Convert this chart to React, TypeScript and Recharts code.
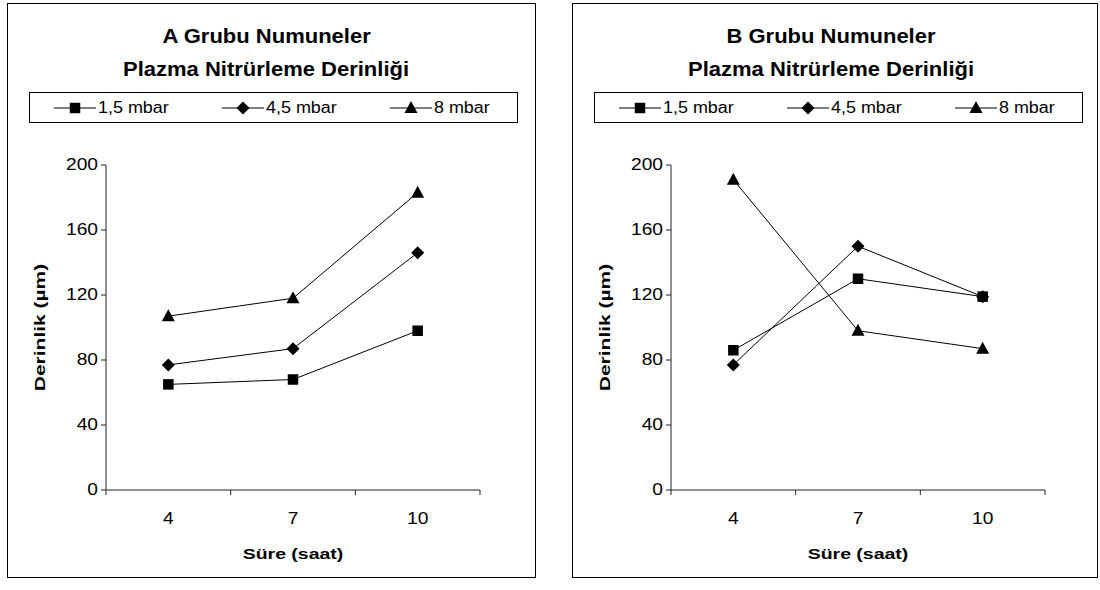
import React from "react";
import { Label, Line, LineChart, XAxis, YAxis } from "recharts";

const hours = ["4", "7", "10"];
const yTicks = [0, 40, 80, 120, 160, 200];
const seriesNames = ["1,5 mbar", "4,5 mbar", "8 mbar"];

// A grubu
const a15 = [65, 68, 98];
const a45 = [77, 87, 146];
const a8 = [107, 118, 183];

// B grubu
const b15 = [86, 130, 119];
const b45 = [77, 150, 119];
const b8 = [191, 98, 87];

const FONT = "'Liberation Sans', Arial, Helvetica, sans-serif";
const CHART_W = 527;
const CHART_H = 573;
const Y_AXIS_W = 50;
const MARGIN = { top: 161, right: 55, bottom: 57, left: 48 };
const PLOT_W = CHART_W - MARGIN.left - MARGIN.right - Y_AXIS_W;
const HALF = PLOT_W / 6;
const AXIS = "#222";
// the original text is drawn a bit wider than Liberation Sans
const TICK_STRETCH = 1.2;

type Shape = "square" | "diamond" | "triangle";
const shapes: Shape[] = ["square", "diamond", "triangle"];

function Marker({ cx, cy, shape }: { cx: number; cy: number; shape: Shape }) {
  if (shape === "square") {
    return <rect x={cx - 5.25} y={cy - 5.25} width={10.5} height={10.5} fill="#000" />;
  }
  if (shape === "diamond") {
    return (
      <polygon
        points={`${cx},${cy - 6.5} ${cx + 6.5},${cy} ${cx},${cy + 6.5} ${cx - 6.5},${cy}`}
        fill="#000"
      />
    );
  }
  return (
    <polygon
      points={`${cx},${cy - 7} ${cx + 6.5},${cy + 5} ${cx - 6.5},${cy + 5}`}
      fill="#000"
    />
  );
}

function XTick(props: any) {
  const { x, y, payload, index } = props;
  return (
    <g>
      <line x1={x + HALF} x2={x + HALF} y1={y - 5} y2={y} stroke={AXIS} />
      {index === 0 && (
        <line x1={x - HALF} x2={x - HALF} y1={y - 5} y2={y} stroke={AXIS} />
      )}
      <text
        transform={`translate(${x} ${y + 24}) scale(${TICK_STRETCH} 1)`}
        textAnchor="middle"
        dominantBaseline="central"
        fontSize={16}
        fill="#000"
        fontFamily={FONT}
      >
        {payload.value}
      </text>
    </g>
  );
}

function YTick(props: any) {
  const { x, y, payload } = props;
  return (
    <text
      transform={`translate(${x - 1} ${y}) scale(${TICK_STRETCH} 1)`}
      textAnchor="end"
      dominantBaseline="central"
      fontSize={16}
      fill="#000"
      fontFamily={FONT}
    >
      {payload.value}
    </text>
  );
}

function Legend() {
  return (
    <div
      style={{
        position: "absolute",
        left: 21,
        top: 88,
        width: 489,
        height: 31,
        border: "1px solid #000",
        boxSizing: "border-box",
      }}
    >
      {seriesNames.map((name, i) => (
        <div
          key={name}
          style={{
            position: "absolute",
            left: 24 + i * 168,
            top: 0,
            height: 29,
            display: "flex",
            alignItems: "center",
            fontSize: 16,
            fontFamily: FONT,
            whiteSpace: "nowrap",
          }}
        >
          <svg width={42} height={16} style={{ marginRight: 2 }}>
            <line x1={0} x2={42} y1={8} y2={8} stroke="#000" />
            <Marker cx={21} cy={8} shape={shapes[i]} />
          </svg>
          <span
            style={{
              display: "inline-block",
              transform: "scaleX(1.12)",
              transformOrigin: "left center",
            }}
          >
            {name}
          </span>
        </div>
      ))}
    </div>
  );
}

function Panel({
  left,
  width,
  group,
  values,
}: {
  left: number;
  width: number;
  group: string;
  values: number[][];
}) {
  const data = hours.map((h, i) => ({
    hour: h,
    s0: values[0][i],
    s1: values[1][i],
    s2: values[2][i],
  }));
  const titleLine = {
    display: "inline-block",
    transform: "scaleX(1.1)",
    transformOrigin: "center center",
  };
  return (
    <div
      style={{
        position: "absolute",
        left,
        top: 3,
        width,
        height: CHART_H + 2,
        border: "1px solid #000",
        boxSizing: "border-box",
        background: "#fff",
        overflow: "hidden",
      }}
    >
      <div
        style={{
          position: "absolute",
          left: 0,
          top: 16,
          width: 517,
          textAlign: "center",
          fontFamily: FONT,
          fontWeight: "bold",
          fontSize: 20,
          lineHeight: "33px",
        }}
      >
        <span style={titleLine}>{group} Grubu Numuneler</span>
        <br />
        <span style={titleLine}>Plazma Nitrürleme Derinliği</span>
      </div>
      <Legend />
      <div style={{ position: "absolute", left: 0, top: 0 }}>
        <LineChart width={CHART_W} height={CHART_H} data={data} margin={MARGIN}>
          <XAxis
            dataKey="hour"
            padding={{ left: HALF, right: HALF }}
            axisLine={{ stroke: AXIS }}
            tickLine={false}
            tickSize={5}
            tickMargin={0}
            tick={<XTick />}
            height={30}
          >
            <Label
              content={(p: any) => {
                const cx = p.viewBox.x + p.viewBox.width / 2;
                const cy = p.viewBox.y + 64;
                return (
                  <text
                    transform={`translate(${cx} ${cy}) scale(1.3 1)`}
                    textAnchor="middle"
                    dominantBaseline="central"
                    fontSize={15}
                    fontWeight="bold"
                    fontFamily={FONT}
                    fill="#000"
                  >
                    Süre (saat)
                  </text>
                );
              }}
            />
          </XAxis>
          <XAxis
            xAxisId="top"
            dataKey="hour"
            orientation="top"
            height={0}
            tick={false}
            tickLine={false}
            axisLine={{ stroke: "#888" }}
          />
          <YAxis
            domain={[0, 200]}
            ticks={yTicks}
            width={Y_AXIS_W}
            axisLine={{ stroke: AXIS }}
            tickLine={{ stroke: AXIS }}
            tickSize={5}
            tickMargin={2}
            tick={<YTick />}
          >
            <Label
              content={(p: any) => {
                const cx = p.viewBox.x - 16;
                const cy = p.viewBox.y + p.viewBox.height / 2;
                return (
                  <text
                    transform={`translate(${cx} ${cy}) rotate(-90) scale(1.4 1)`}
                    textAnchor="middle"
                    dominantBaseline="central"
                    fontSize={15}
                    fontWeight="bold"
                    fontFamily={FONT}
                    fill="#000"
                  >
                    Derinlik (µm)
                  </text>
                );
              }}
            />
          </YAxis>
          <YAxis
            yAxisId="right"
            orientation="right"
            domain={[0, 200]}
            width={0}
            tick={false}
            tickLine={false}
            axisLine={{ stroke: "#888" }}
          />
          {shapes.map((shape, i) => (
            <Line
              key={shape}
              dataKey={`s${i}`}
              name={seriesNames[i]}
              stroke="#000"
              strokeWidth={1}
              isAnimationActive={false}
              activeDot={false}
              dot={(p: any) => (
                <Marker key={`${shape}-${p.index}`} cx={p.cx} cy={p.cy} shape={shape} />
              )}
            />
          ))}
        </LineChart>
      </div>
    </div>
  );
}

export default function App() {
  return (
    <div
      style={{
        position: "absolute",
        left: 0,
        top: 0,
        width: 1100,
        height: 590,
        background: "#fff",
      }}
    >
      <Panel left={7} width={529} group="A" values={[a15, a45, a8]} />
      <Panel left={572} width={526} group="B" values={[b15, b45, b8]} />
    </div>
  );
}
